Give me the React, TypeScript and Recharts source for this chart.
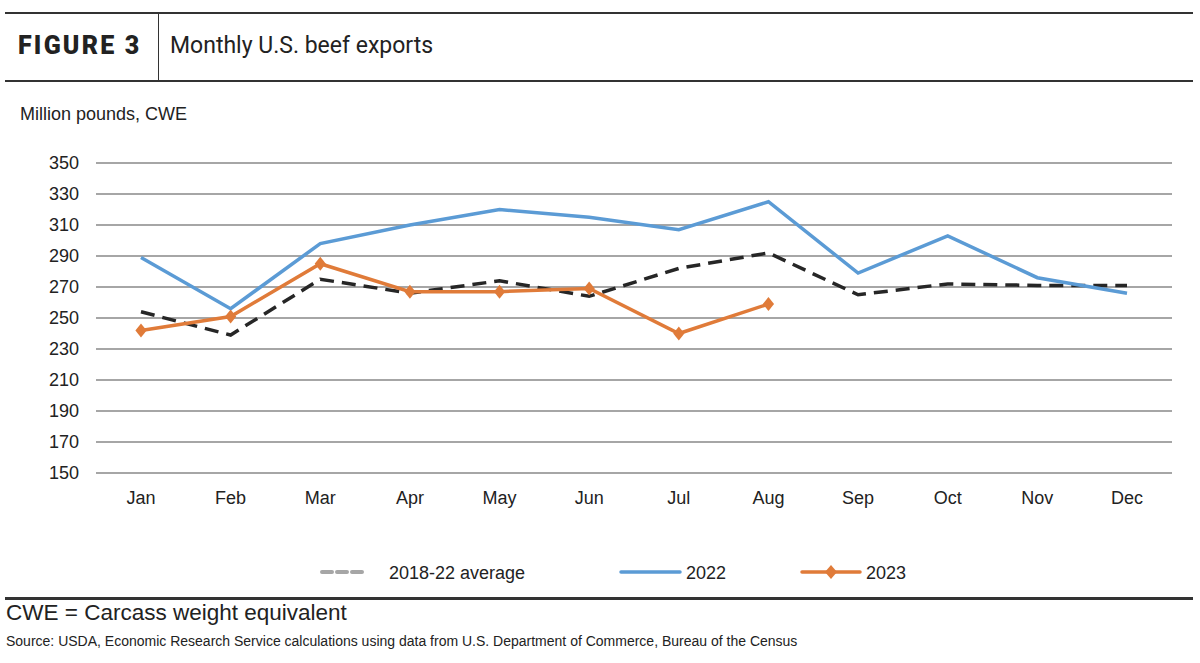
import { LineChart, Line, XAxis, YAxis, CartesianGrid } from "recharts";

const months = ["Jan", "Feb", "Mar", "Apr", "May", "Jun", "Jul", "Aug", "Sep", "Oct", "Nov", "Dec"];
const avg1822 = [254, 239, 275, 266, 274, 264, 282, 292, 265, 272, 271, 271];
const exports2022 = [289, 256, 298, 310, 320, 315, 307, 325, 279, 303, 276, 266];
const exports2023 = [242, 251, 285, 267, 267, 269, 240, 259];
const yTicks = [150, 170, 190, 210, 230, 250, 270, 290, 310, 330, 350];

const data = months.map((m, i) => ({
  month: m,
  avg: avg1822[i],
  y2022: exports2022[i],
  y2023: i < exports2023.length ? exports2023[i] : null,
}));

const narrow = "'Liberation Sans Narrow', 'Arial Narrow', 'Liberation Sans', sans-serif";
const ORANGE = "#e07b39";
const BLUE = "#5b9bd5";

const Diamond = (props: any) => {
  const { cx, cy } = props;
  if (cx == null || cy == null || props.value == null) return <g />;
  const r = 7;
  return (
    <polygon
      points={`${cx},${cy - r} ${cx + r * 0.8},${cy} ${cx},${cy + r} ${cx - r * 0.8},${cy}`}
      fill={ORANGE}
    />
  );
};

export default function App() {
  return (
    <div style={{ position: "absolute", left: 0, top: 0, width: 1200, height: 663, background: "#fff", fontFamily: narrow, color: "#222" }}>
      {/* header band */}
      <div style={{ position: "absolute", left: 5, top: 12, width: 1188, height: 2, background: "#333" }} />
      <div style={{ position: "absolute", left: 5, top: 80, width: 1188, height: 2, background: "#333" }} />
      <div style={{ position: "absolute", left: 158, top: 13, width: 1, height: 68, background: "#333" }} />
      <div style={{ position: "absolute", left: 18, top: 31, fontFamily: "Roboto, sans-serif", fontWeight: 900, fontSize: 25, letterSpacing: 2.2, color: "#222" }}>
        FIGURE 3
      </div>
      <div style={{ position: "absolute", left: 170, top: 32, fontFamily: "Roboto, sans-serif", fontSize: 23, color: "#222" }}>
        Monthly U.S. beef exports
      </div>
      <div style={{ position: "absolute", left: 20, top: 104, fontSize: 18 }}>Million pounds, CWE</div>

      <div style={{ position: "absolute", left: 0, top: 0 }}>
        <LineChart width={1200} height={520} data={data} margin={{ top: 163, right: 28, left: 0, bottom: 0 }}>
          <CartesianGrid vertical={false} stroke="#a6a6a6" strokeWidth={2} />
          <XAxis
            dataKey="month"
            height={47}
            padding={{ left: 45, right: 45 }}
            axisLine={{ stroke: "#a6a6a6", strokeWidth: 2 }}
            tickLine={false}
            tickMargin={12}
            tick={{ fill: "#222", fontSize: 18, fontFamily: narrow }}
          />
          <YAxis
            width={96}
            domain={[150, 350]}
            ticks={yTicks}
            axisLine={false}
            tickLine={false}
            tickMargin={11}
            tick={{ fill: "#222", fontSize: 18, fontFamily: narrow }}
          />
          <Line dataKey="avg" stroke="#262626" strokeWidth={3.5} strokeDasharray="14 8" dot={false} isAnimationActive={false} />
          <Line dataKey="y2022" stroke={BLUE} strokeWidth={3.5} dot={false} isAnimationActive={false} />
          <Line dataKey="y2023" stroke={ORANGE} strokeWidth={3.5} dot={<Diamond />} activeDot={false} connectNulls={false} isAnimationActive={false} />
        </LineChart>
      </div>

      {/* legend */}
      <svg style={{ position: "absolute", left: 0, top: 560 }} width={1200} height={24}>
        <line x1={322} x2={362} y1={12} y2={12} stroke="#a6a6a6" strokeWidth={4} strokeDasharray="10 5" strokeLinecap="round" />
        <line x1={621} x2={680} y1={12} y2={12} stroke={BLUE} strokeWidth={3.5} strokeLinecap="round" />
        <line x1={802} x2={860} y1={12} y2={12} stroke={ORANGE} strokeWidth={3.5} strokeLinecap="round" />
        <polygon points="831,5 837,12 831,19 825,12" fill={ORANGE} />
        <text x={389} y={18.5} fontSize={18} fill="#222" fontFamily={narrow}>2018-22 average</text>
        <text x={686} y={18.5} fontSize={18} fill="#222" fontFamily={narrow}>2022</text>
        <text x={866} y={18.5} fontSize={18} fill="#222" fontFamily={narrow}>2023</text>
      </svg>

      <div style={{ position: "absolute", left: 5, top: 597, width: 1188, height: 2.5, background: "#333" }} />
      <div style={{ position: "absolute", left: 6, top: 600, fontSize: 22.5 }}>CWE = Carcass weight equivalent</div>
      <div style={{ position: "absolute", left: 6, top: 633, fontSize: 14 }}>
        Source: USDA, Economic Research Service calculations using data from U.S. Department of Commerce, Bureau of the Census
      </div>
    </div>
  );
}
